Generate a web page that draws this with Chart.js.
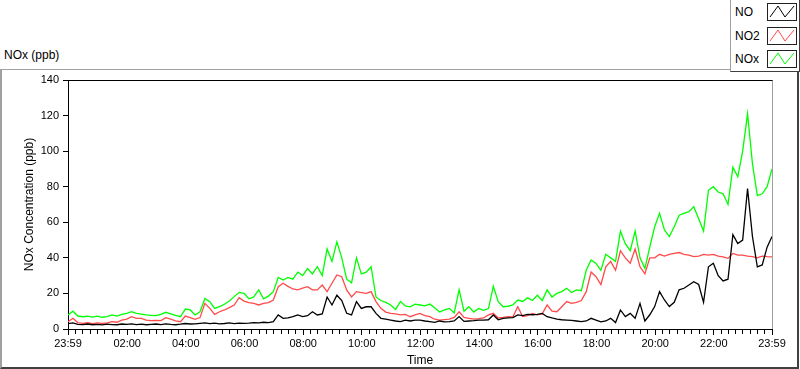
<!DOCTYPE html>
<html lang="en">
<head>
<meta charset="UTF-8">
<title>NOx (ppb)</title>
<script src="https://cdn.jsdelivr.net/npm/chart.js"></script>
<style>
  body { margin: 0; background: #fff; font-family: 'Liberation Sans', Arial, sans-serif; color: #000; }
  .wrap { position: relative; width: 800px; height: 369px; overflow: hidden; }
  .caption { position: absolute; left: 4px; top: 48px; font-size: 12px; }
  .frame { position: absolute; left: 0; top: 69px; width: 795px; height: 297px;
           border-top: 1px solid #a0a0a0; border-left: 2px solid #a0a0a0;
           border-right: 2px solid #404040; border-bottom: 2px solid #404040; }
  .plotbox { position: absolute; left: 68px; top: 80px; width: 705px; height: 250px; box-sizing: border-box;
             border-top: 1px solid #000; border-right: 1px solid #a0a0a0; }
  .legend { position: absolute; left: 730px; top: 0; width: 68px; height: 71px; background: #fff;
            border-left: 1px solid #a0a0a0; border-right: 1px solid #404040; border-bottom: 1px solid #404040; }
  .row { position: absolute; left: 0; width: 68px; height: 23px; }
  .row span { position: absolute; left: 4px; top: 4px; font-size: 12px; }
  .row svg { position: absolute; left: 36px; top: 2px; }
  canvas { position: absolute; left: 0; top: 0; }
</style>
</head>
<body>
<div class="wrap">
  <div class="caption">NOx (ppb)</div>
  <div class="frame"></div>
  <div class="plotbox"></div>
  <canvas id="noxChart" width="800" height="369"></canvas>
  <div class="legend" id="legend"></div>
</div>
<script>
// one sample every 10 minutes, starting at 23:59
const STEP_MIN = 10;

const no = [
  3, 3.4, 2.6, 2.5, 2.8, 2.4, 2.6, 2.3, 2.7, 2.5, 2.4, 2.8, 2.6, 2.9, 2.5, 2.7, 2.4, 2.6,
  2.8, 2.5, 2.9, 2.6, 2.4, 2.7, 3.1, 2.8, 2.9, 3.2, 3.4, 3, 3.3, 2.9, 3.1, 3.4, 3, 3.3,
  3.2, 3.3, 3.6, 3.5, 3.8, 3.6, 4.1, 7.9, 6, 6.2, 6.9, 7.9, 7, 7.5, 9.7, 7.9, 8.5, 18,
  13.5, 19, 16, 8.8, 7.9, 15.4, 11.6, 12.5, 12.5, 8.8, 6, 5.5, 5, 4.5, 4.1, 5, 4.5, 5,
  5, 4.5, 4.1, 3.7, 4.5, 4, 4.2, 4.5, 7, 4.3, 4.5, 4.7, 5, 5, 5.2, 7.9, 5.2, 6,
  6.2, 6.4, 7.9, 7.5, 8.2, 8, 8.2, 8.8, 6.9, 6.2, 5.6, 5.2, 5, 4.8, 4.5, 4.1, 4.5, 6,
  5, 4, 4.5, 6, 3.6, 10.7, 7, 8.8, 6, 14.4, 4.5, 8, 12.6, 21, 16.3, 12.6, 15, 22,
  22.9, 24.7, 26.6, 25, 15, 35, 37, 30, 27, 28, 53, 48, 50, 79, 52, 35, 36, 46, 52
];

const no2 = [
  4.1, 6, 3.6, 3.2, 3.5, 3, 3.4, 3.1, 3.5, 4.1, 3.8, 5, 5.6, 6.9, 6, 6, 5, 4.7,
  4.9, 4.7, 6.4, 5.5, 4.6, 4.1, 7.3, 6.4, 5.4, 6.4, 14.4, 11.6, 8.2, 9.7, 10.7, 12, 13.5, 17.6,
  15.7, 14.8, 14.4, 13.5, 14.4, 14.8, 16.3, 23.8, 25.7, 24, 22.5, 22, 23, 23.8, 22, 22, 24.7, 21,
  25.7, 30.4, 29.4, 22, 18, 21, 20.5, 20, 21, 15.4, 11.6, 9.5, 8.8, 8.5, 7.9, 8.2, 6.9, 7.9,
  8.8, 7.5, 6.9, 5.5, 5, 5.3, 5.6, 6.5, 9.7, 6.5, 6, 5.5, 5.8, 6.2, 7.9, 8.8, 6.2, 6.5,
  7, 6.8, 12.5, 7, 7.5, 8.8, 8, 8.5, 13.5, 10, 9.7, 12.5, 15.4, 14.4, 15, 16, 21, 32,
  29.4, 25, 35, 38, 33, 44, 40, 37, 45, 35, 31, 40, 40, 42, 41, 42, 42.5, 43,
  42, 41.5, 40.7, 41, 42, 41.5, 42, 41, 40.5, 39.7, 42.5, 41.5, 41.5, 41, 40.7, 40, 41, 40.7, 40.5
];

const nox = [
  7.9, 10, 7.3, 6.9, 7.2, 6.7, 7.2, 6.6, 6.9, 7.9, 7.3, 8.2, 8.8, 9.7, 8.8, 8.4, 7.9, 7.7,
  7.5, 8.2, 9.4, 8.5, 7.6, 6.9, 11.2, 10.7, 7.9, 9.7, 17.2, 15.4, 11.6, 12.6, 13.9, 15.7, 18.2, 20.6,
  20, 17, 18, 22, 17, 18.5, 21, 29, 27.5, 29, 28, 32, 30, 34, 31, 35, 30, 45,
  38, 49, 40, 28, 26, 40, 31, 32, 35, 18, 16, 15, 13.5, 11, 15.5, 13, 12.5, 14,
  13.5, 13, 14, 12, 9.5, 10.7, 11.6, 9, 22, 10, 12.5, 9.5, 11.5, 10.5, 11.5, 24, 15.4, 12.5,
  12.8, 13.5, 16.3, 15.5, 17.5, 16, 19, 16, 22, 18, 20, 21, 22.9, 20.5, 22, 21.5, 33, 38.8,
  36.9, 33, 42, 40, 38, 55, 48, 44, 55, 40, 34, 46, 57.5, 65, 55.7, 52, 57.5, 64,
  65, 66, 68.8, 62, 55, 78, 80, 77, 76, 70, 91, 85.6, 100, 121, 93, 75, 76, 80, 90
];

// x axis: minutes after 23:59
const xMajor = [0, 121, 241, 361, 481, 601, 721, 841, 961, 1081, 1201, 1321, 1440];
const xLabels = ['23:59', '02:00', '04:00', '06:00', '08:00', '10:00', '12:00',
                 '14:00', '16:00', '18:00', '20:00', '22:00', '23:59'];

const series = [
  { name: 'NO', values: no, color: '#000000' },
  { name: 'NO2', values: no2, color: '#ff4a4a' },
  { name: 'NOx', values: nox, color: '#00ff00' }
];

const datasets = series.map(function(s) {
  return {
    label: s.name,
    data: s.values.map(function(v, i) { return { x: i * STEP_MIN, y: v }; }),
    borderColor: s.color,
    borderWidth: 1.3,
    pointRadius: 0,
    tension: 0,
    fill: false
  };
});

const tickFont = { family: "'Liberation Sans', Arial, sans-serif", size: 11 };
const titleFont = { family: "'Liberation Sans', Arial, sans-serif", size: 12 };

new Chart(document.getElementById('noxChart'), {
  type: 'line',
  data: { datasets: datasets },
  options: {
    responsive: false,
    animation: false,
    events: [],
    layout: { padding: { left: 0, right: 28, top: 80, bottom: 0 } },
    plugins: { legend: { display: false }, tooltip: { enabled: false } },
    scales: {
      x: {
        type: 'linear',
        min: 0,
        max: 1440,
        afterFit: function(scale) { scale.height = 40; },
        afterBuildTicks: function(scale) {
          const t = [];
          for (let k = 0; k < xMajor.length; k++) {
            t.push({ value: xMajor[k], major: true });
            if (k < xMajor.length - 1) {
              const a = xMajor[k], b = xMajor[k + 1];
              for (let m = 1; m < 8; m++) t.push({ value: a + (b - a) * m / 8, major: false });
            }
          }
          scale.ticks = t;
        },
        ticks: {
          autoSkip: false,
          maxRotation: 0,
          padding: 2,
          color: '#000',
          font: tickFont,
          callback: function(value) {
            const k = xMajor.indexOf(value);
            return k >= 0 ? xLabels[k] : '';
          }
        },
        grid: {
          drawOnChartArea: false,
          tickLength: 6,
          tickColor: '#000',
          tickBorderDash: function(ctx) { return ctx.tick && ctx.tick.major ? [] : [4, 20]; }
        },
        border: { display: true, color: '#000' },
        title: { display: true, text: 'Time', color: '#000', font: titleFont, padding: { top: 0, bottom: 1 } }
      },
      y: {
        min: 0,
        max: 140,
        afterFit: function(scale) { scale.width = 68; },
        ticks: { stepSize: 20, padding: 4, color: '#000', font: tickFont },
        grid: { drawOnChartArea: false, tickLength: 5, tickColor: '#000' },
        border: { display: true, color: '#000' },
        title: { display: true, text: 'NOx Concentration (ppb)', color: '#000', font: titleFont, padding: { top: 22, bottom: 0 } }
      }
    }
  }
});

// legend with small zig-zag samples
const legend = document.getElementById('legend');
series.forEach(function(s, i) {
  const row = document.createElement('div');
  row.className = 'row';
  row.style.top = (1 + i * 23.5) + 'px';
  row.innerHTML = '<span>' + s.name + '</span>' +
    '<svg width="30" height="18"><rect x="0.5" y="0.5" width="29" height="17" fill="#fff" stroke="#202020"/>' +
    '<polyline points="3,14 11,3 18,14 27,3" fill="none" stroke="' + s.color + '" stroke-width="1"/></svg>';
  legend.appendChild(row);
});
</script>
</body>
</html>
